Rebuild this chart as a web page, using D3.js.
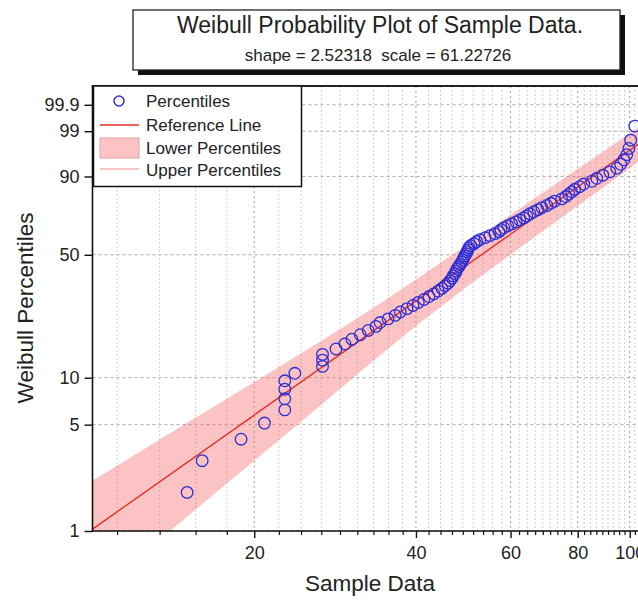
<!DOCTYPE html>
<html><head><meta charset="utf-8">
<script src="https://cdn.jsdelivr.net/npm/d3@7/dist/d3.min.js"></script>
<style>body{margin:0;background:#fff} svg{display:block;font-family:"Liberation Sans",Arial,sans-serif}</style>
</head><body><svg id="c" width="638" height="601"></svg>
<script>
const titleText = "Weibull Probability Plot of Sample Data.";
const subtitleText = "shape = 2.52318  scale = 61.22726";
const shapeParam = 2.52318, scaleParam = 61.22726;
const xAxisTitle = "Sample Data";
const yAxisTitle = "Weibull Percentiles";

const sampleData = [15.0,16.0,18.9,20.9,22.8,22.8,22.8,22.8,23.8,26.8,26.8,26.8,28.4,29.5,30.4,31.5,32.6,33.7,34.3,35.5,
  36.6,37.4,38.5,39.5,40.4,41.4,42.3,43.2,44.0,44.7,45.3,45.9,46.3,46.7,46.9,47.3,47.5,47.7,48.1,48.3,
  48.7,48.9,49.1,49.3,49.6,49.8,50.0,50.2,50.6,51.3,51.9,52.6,53.8,54.9,56.1,57.1,57.6,58.3,59.3,60.3,
  61.4,62.4,63.5,64.3,65.2,66.3,67.5,68.6,70.1,71.3,72.5,74.7,76.0,77.0,78.0,79.0,80.7,82.1,85.0,86.8,
  89.1,91.8,94.6,96.2,97.5,98.7,99.6,100.4,102.2];
const percentiles = [1.80,2.91,4.02,5.12,6.23,7.34,8.45,9.56,10.66,11.77,12.88,13.99,15.10,16.20,17.31,18.42,19.53,20.64,21.75,22.85,
  23.96,25.07,26.18,27.29,28.39,29.50,30.61,31.72,32.83,33.93,35.04,36.15,37.26,38.37,39.47,40.58,41.69,42.80,43.91,45.01,
  46.12,47.23,48.34,49.45,50.55,51.66,52.77,53.88,54.99,56.09,57.20,58.31,59.42,60.53,61.63,62.74,63.85,64.96,66.07,67.17,
  68.28,69.39,70.50,71.61,72.71,73.82,74.93,76.04,77.15,78.25,79.36,80.47,81.58,82.69,83.80,84.90,86.01,87.12,88.23,89.34,
  90.44,91.55,92.66,93.77,94.88,95.98,97.09,98.20,99.31];

const bandPercent = [0.5,1,2,5,10,20,30,50,63.21,80,90,95,99,99.5];
const bandLowerX = [5.20,7.02,9.67,14.79,20.61,28.97,35.49,46.76,54.31,65.86,76.24,84.99,101.23,107.0];
const bandUpperX = [10.85,13.93,17.59,24.08,30.56,39.42,46.66,59.95,69.03,83.00,95.24,105.26,124.27,131.4];

const refLineX = [10, 110];

const xMajorTicks = [20,40,60,80,100];
const xTickLabels = ["20","40","60","80","100"];
const yTickValues = [1,5,10,50,90,99,99.9];
const yTickLabels = ["1","5","10","50","90","99","99.9"];
const legendLabels = ["Percentiles","Reference Line","Lower Percentiles","Upper Percentiles"];

const svg = d3.select("#c");
const L = 92.5, R = 652, T = 86, B = 531;

const wt = p => Math.log(-Math.log(1 - p/100));
const x = d3.scaleLog().domain([10,110]).range([L,R]);
const y = d3.scaleLinear().domain([wt(1), wt(99.99)]).range([B,T]);

// minor ticks: 8 between each pair of majors (linear steps of 20/9)
const minorTicks = [];
for (let b = 0; b <= 100; b += 20) for (let k = 1; k <= 8; k++) { const v = b + k*20/9; if (v > 10 && v < 110) minorTicks.push(v); }

svg.append("defs").append("clipPath").attr("id","clip").append("rect")
  .attr("x",L).attr("y",T).attr("width",R-L).attr("height",B-T);

// grid
const g = svg.append("g");
g.selectAll(".vmin").data(minorTicks).enter().append("line")
  .attr("x1",d=>x(d)).attr("x2",d=>x(d)).attr("y1",T).attr("y2",B)
  .attr("stroke","#cfcfcf").attr("stroke-width",1).attr("stroke-dasharray","2,2");
g.selectAll(".vmaj").data(xMajorTicks).enter().append("line")
  .attr("x1",d=>x(d)).attr("x2",d=>x(d)).attr("y1",T).attr("y2",B)
  .attr("stroke","#a0a0a0").attr("stroke-width",1).attr("stroke-dasharray","2,3");
g.selectAll(".hmaj").data(yTickValues).enter().append("line")
  .attr("x1",L).attr("x2",R).attr("y1",d=>y(wt(d))).attr("y2",d=>y(wt(d)))
  .attr("stroke","#a8a8a8").attr("stroke-width",1).attr("stroke-dasharray","3,3");

const plot = svg.append("g").attr("clip-path","url(#clip)");
const bandData = bandPercent.map((p,i)=>({p, lo: bandLowerX[i], hi: bandUpperX[i]}));
plot.append("path").datum(bandData)
  .attr("d", d3.area().y(d=>y(wt(d.p))).x0(d=>x(d.lo)).x1(d=>x(d.hi)).curve(d3.curveMonotoneY))
  .attr("fill","rgba(244,106,106,0.4)").attr("stroke","none");

// reference line from shape/scale
const refPts = refLineX.map(v => ({v, z: shapeParam*(Math.log(v) - Math.log(scaleParam))}));
plot.append("path").datum(refPts)
  .attr("d", d3.line().x(d=>x(d.v)).y(d=>y(d.z)))
  .attr("fill","none").attr("stroke","#e3302b").attr("stroke-width",1.4);

// points
svg.append("g").selectAll("circle").data(sampleData.map((v,i)=>({v,p:percentiles[i]}))).enter()
  .append("circle").attr("cx",d=>x(d.v)).attr("cy",d=>y(wt(d.p))).attr("r",5.8)
  .attr("fill","none").attr("stroke","#2f2fd6").attr("stroke-width",1.3);

// axes
const fontTick = "18px";
const yAx = svg.append("g").attr("transform",`translate(${L},0)`)
  .call(d3.axisLeft(y).tickValues(yTickValues.map(wt)).tickFormat((d,i)=>yTickLabels[i]).tickSize(8).tickPadding(5).tickSizeOuter(0));
yAx.select(".domain").remove();
yAx.selectAll("text").attr("font-size",fontTick).attr("fill","#222").attr("font-family","Liberation Sans, Arial, sans-serif");
yAx.selectAll("line").attr("stroke","#111").attr("stroke-width",1.4);

const xAx = svg.append("g").attr("transform",`translate(0,${B})`)
  .call(d3.axisBottom(x).tickValues(xMajorTicks).tickFormat((d,i)=>xTickLabels[i]).tickSize(7).tickPadding(8).tickSizeOuter(0));
xAx.select(".domain").remove();
xAx.selectAll("text").attr("font-size",fontTick).attr("fill","#222").attr("font-family","Liberation Sans, Arial, sans-serif");
xAx.selectAll("line").attr("stroke","#111").attr("stroke-width",1.4);

const xMin = svg.append("g").attr("transform",`translate(0,${B})`)
  .call(d3.axisBottom(x).tickValues(minorTicks).tickFormat("").tickSize(4).tickSizeOuter(0));
xMin.select(".domain").remove();
xMin.selectAll("line").attr("stroke","#111").attr("stroke-width",1.2);

// frame lines
svg.append("line").attr("x1",L).attr("x2",L).attr("y1",T).attr("y2",B).attr("stroke","#111").attr("stroke-width",1.6);
svg.append("line").attr("x1",L-0.8).attr("x2",R).attr("y1",B).attr("y2",B).attr("stroke","#111").attr("stroke-width",1.6);
svg.append("line").attr("x1",L-0.8).attr("x2",R).attr("y1",T).attr("y2",T).attr("stroke","#222").attr("stroke-width",2);

// axis titles
svg.append("text").attr("x",370).attr("y",591).attr("text-anchor","middle")
  .attr("font-size","22.5px").attr("fill","#222").text(xAxisTitle);
svg.append("text").attr("transform","translate(33,308) rotate(-90)").attr("text-anchor","middle")
  .attr("font-size","22.5px").attr("fill","#222").text(yAxisTitle);

// legend
const lg = svg.append("g");
lg.append("rect").attr("x",93.5).attr("y",86).attr("width",208).attr("height",100.5)
  .attr("fill","#fff").attr("stroke","#111").attr("stroke-width",1.5);
lg.append("circle").attr("cx",119).attr("cy",101).attr("r",5).attr("fill","none").attr("stroke","#2f2fd6").attr("stroke-width",1.5);
lg.append("line").attr("x1",100).attr("x2",139).attr("y1",125).attr("y2",125).attr("stroke","#e3302b").attr("stroke-width",1.5);
lg.append("rect").attr("x",100).attr("y",138).attr("width",39).attr("height",20)
  .attr("fill","rgba(244,106,106,0.4)").attr("stroke","#e8a3a3").attr("stroke-width",1);
lg.append("line").attr("x1",100).attr("x2",139).attr("y1",169).attr("y2",169).attr("stroke","#f5b5b5").attr("stroke-width",1.5);
const lgY = [107,131,154,176];
lg.selectAll("text.l").data(legendLabels).enter().append("text")
  .attr("x",146).attr("y",(d,i)=>lgY[i]).attr("font-size","17px").attr("fill","#222").text(d=>d);

// title box
svg.append("rect").attr("x",138).attr("y",15).attr("width",487).attr("height",60).attr("fill","#111");
svg.append("rect").attr("x",133).attr("y",10).attr("width",487).attr("height",60)
  .attr("fill","#fff").attr("stroke","#222").attr("stroke-width",1.3);
svg.append("text").attr("x",380).attr("y",33).attr("text-anchor","middle")
  .attr("font-size","23px").attr("fill","#222").text(titleText);
svg.append("text").attr("x",378).attr("y",61).attr("text-anchor","middle")
  .attr("font-size","17px").attr("fill","#222").style("white-space","pre").text(subtitleText);
</script></body></html>
